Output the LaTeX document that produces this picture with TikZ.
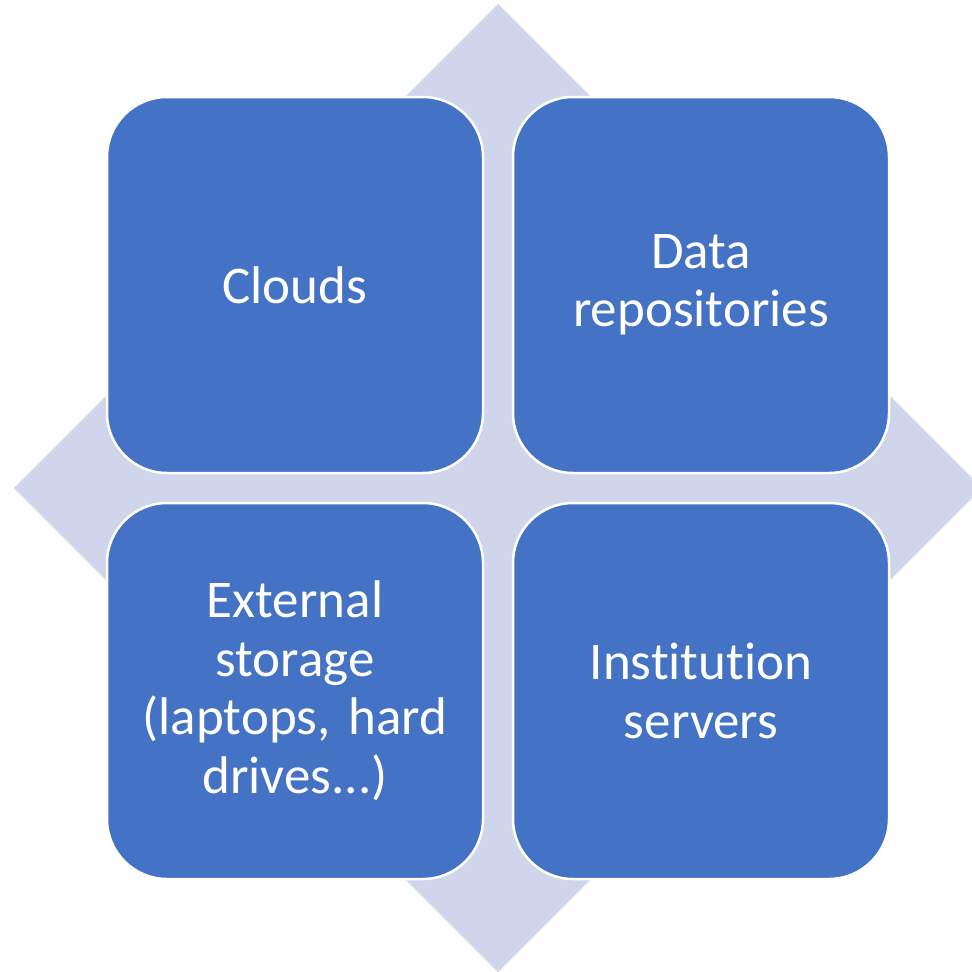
\documentclass[tikz,border=0pt]{standalone}
\usepackage{fontspec}
\setmainfont{Carlito}[Ligatures=NoCommon]
\frenchspacing
\definecolor{tileblue}{HTML}{4472C4}
\definecolor{diamondgray}{HTML}{CFD5EA}
\begin{document}
\begin{tikzpicture}[x=1pt,y=-1pt,
  tile/.style={draw=white, line width=2.5pt, fill=tileblue, rounded corners=60pt,
    minimum width=376pt, minimum height=376pt, inner sep=0pt,
    text=white, align=center, text width=340pt,
    font=\fontsize{53}{58.5}\selectfont}]
  \useasboundingbox (0,0) rectangle (972,972);
  % background diamond
  \coordinate (mid) at (498,488);
  \fill[diamondgray] (mid) ++(0,-484) -- ++(484,484) -- ++(-484,484) -- ++(-484,-484) -- cycle;
  % four tiles
  \node[tile] (clouds)   at (295,285) {Clouds};
  \node[tile] (repos)    at (701,285) {Data\\repositories};
  \node[tile] (external) at (295,691) {External\\storage\\(laptops, hard\\drives...)};
  \node[tile] (servers)  at (701,691) {Institution\\servers};
\end{tikzpicture}
\end{document}
